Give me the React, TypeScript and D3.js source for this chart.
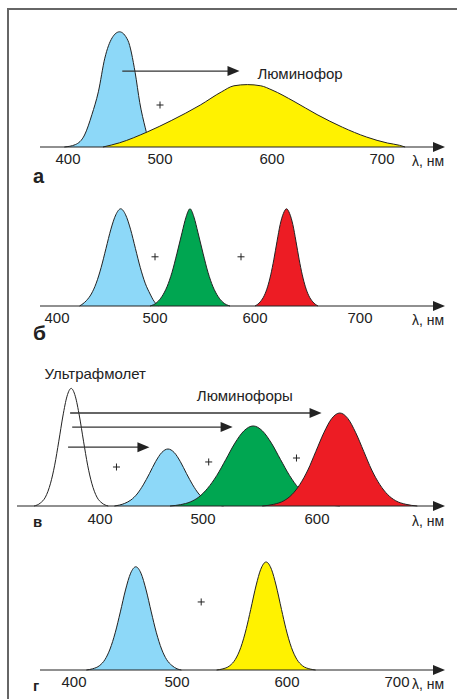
import * as d3 from "d3";

type Pt = [number, number];

const W = 457;
const H = 699;
const AMP = 120; // px per unit of relative intensity

const BLUE = "#8dd8f8";
const YELLOW = "#fff200";
const GREEN = "#00a651";
const RED = "#ed1c24";
const INK = "#222";

// ---- panel а : blue LED + broad phosphor ----
const ticksA = [400, 500, 600, 700];
const blueA: Pt[] = [[396, 0], [408, 0.02], [418, 0.1], [426, 0.27], [433, 0.46], [440, 0.74], [448, 0.91], [456, 0.96], [465, 0.89], [473, 0.62], [478, 0.37], [484, 0.16], [488, 0.05], [492, 0]];
const yellowA: Pt[] = [[438, 0], [456, 0.035], [486, 0.125], [510, 0.22], [536, 0.35], [555, 0.46], [566, 0.51], [578, 0.52], [590, 0.51], [600, 0.475], [620, 0.38], [641, 0.27], [664, 0.165], [686, 0.083], [705, 0.033], [716, 0.014], [721, 0]];

// ---- panel б : RGB ----
const ticksB = [400, 500, 600, 700];
const blueB: Pt[] = [[423, 0], [430, 0.045], [435, 0.1], [440, 0.19], [445, 0.32], [450, 0.48], [455, 0.64], [460, 0.76], [465, 0.81], [470, 0.76], [475, 0.64], [480, 0.48], [485, 0.32], [490, 0.19], [495, 0.1], [499, 0.04], [504, 0]];
const greenB: Pt[] = [[495, 0], [502, 0.03], [507, 0.08], [512, 0.16], [517, 0.28], [522, 0.44], [527, 0.61], [531, 0.74], [535, 0.81], [539, 0.74], [543, 0.61], [548, 0.44], [553, 0.28], [558, 0.16], [563, 0.08], [568, 0.03], [575, 0]];
const redB: Pt[] = [[600, 0], [605, 0.035], [609, 0.09], [612, 0.16], [615, 0.26], [618, 0.39], [621, 0.54], [624, 0.68], [627, 0.77], [630, 0.81], [633, 0.77], [636, 0.68], [639, 0.54], [642, 0.39], [645, 0.26], [648, 0.16], [651, 0.09], [655, 0.035], [660, 0]];

// ---- panel в : UV + three phosphors ----
const ticksV = [400, 500, 600, 700];
const uvV: Pt[] = [[336, 0], [342, 0.024], [347, 0.074], [352, 0.19], [356, 0.34], [360, 0.54], [364, 0.75], [368, 0.915], [372, 0.98], [376, 0.915], [380, 0.75], [384, 0.54], [388, 0.34], [392, 0.19], [397, 0.074], [402, 0.024], [408, 0]];
const blueV: Pt[] = [[414, 0], [424, 0.022], [430, 0.05], [436, 0.1], [442, 0.176], [448, 0.27], [454, 0.37], [460, 0.446], [466, 0.475], [472, 0.446], [478, 0.37], [484, 0.27], [490, 0.176], [496, 0.1], [502, 0.05], [508, 0.022], [518, 0]];
const greenV: Pt[] = [[468, 0], [478, 0.011], [488, 0.035], [496, 0.075], [504, 0.147], [512, 0.253], [520, 0.387], [528, 0.524], [536, 0.627], [544, 0.667], [552, 0.627], [560, 0.524], [568, 0.387], [576, 0.253], [584, 0.147], [592, 0.075], [600, 0.035], [610, 0.011], [620, 0]];
const redV: Pt[] = [[552, 0], [562, 0.014], [571, 0.044], [578, 0.095], [585, 0.18], [592, 0.3], [599, 0.455], [606, 0.61], [613, 0.73], [620, 0.775], [627, 0.73], [634, 0.61], [641, 0.455], [648, 0.3], [655, 0.18], [662, 0.095], [669, 0.044], [678, 0.014], [688, 0]];

// ---- panel г : blue + yellow ----
const ticksG = [400, 500, 600, 700];
const blueG: Pt[] = [[412, 0], [418, 0.01], [425, 0.038], [430, 0.086], [435, 0.175], [440, 0.31], [445, 0.484], [450, 0.667], [455, 0.807], [460, 0.86], [465, 0.807], [470, 0.667], [475, 0.484], [480, 0.31], [485, 0.175], [490, 0.086], [495, 0.038], [500, 0.01], [504, 0]];
const yellowG: Pt[] = [[536, 0], [541, 0.008], [548, 0.036], [553, 0.088], [558, 0.188], [563, 0.345], [567, 0.504], [572, 0.708], [576, 0.836], [581, 0.9], [586, 0.836], [590, 0.708], [595, 0.504], [599, 0.345], [604, 0.188], [609, 0.088], [614, 0.036], [621, 0.008], [626, 0]];

type Series = { data: Pt[]; color: string };
type Arrow = { from: number; to: number; level: number };
type Note = { text: string; nm: number; level: number };
type Plus = { nm: number; level: number };

type PanelCfg = {
  ticks: number[];
  tickPx: number[];
  shownTicks: number[];
  axisY: number;
  axisX0: number;
  labelDy: number;
  letter: string;
  letterY: number;
  letterSize: number;
  series: Series[];
  arrows: Arrow[];
  notes: Note[];
  pluses: Plus[];
};

const panels: PanelCfg[] = [
  {
    ticks: ticksA, tickPx: [68, 160, 272, 382], shownTicks: ticksA,
    axisY: 147, axisX0: 40, labelDy: 17, letter: "а", letterY: 183, letterSize: 20,
    series: [{ data: blueA, color: BLUE }, { data: yellowA, color: YELLOW }],
    arrows: [{ from: 459, to: 571, level: 0.633 }],
    notes: [{ text: "Люминофор", nm: 587, level: 0.57 }],
    pluses: [{ nm: 500, level: 0.35 }],
  },
  {
    ticks: ticksB, tickPx: [57, 155, 255, 360], shownTicks: ticksB,
    axisY: 306, axisX0: 40, labelDy: 17, letter: "б", letterY: 340, letterSize: 21,
    series: [{ data: blueB, color: BLUE }, { data: greenB, color: GREEN }, { data: redB, color: RED }],
    arrows: [], notes: [],
    pluses: [{ nm: 500, level: 0.41 }, { nm: 586, level: 0.41 }],
  },
  {
    ticks: ticksV, tickPx: [100, 203, 317, 431], shownTicks: [400, 500, 600],
    axisY: 506, axisX0: 17, labelDy: 18, letter: "в", letterY: 527, letterSize: 15,
    series: [{ data: uvV, color: "#fff" }, { data: blueV, color: BLUE }, { data: greenV, color: GREEN }, { data: redV, color: RED }],
    arrows: [
      { from: 371, to: 604, level: 0.775 },
      { from: 373, to: 526, level: 0.658 },
      { from: 369, to: 448, level: 0.49 },
    ],
    notes: [
      { text: "Ультрафмолет", nm: 346, level: 1.058 },
      { text: "Люминофоры", nm: 494, level: 0.875 },
    ],
    pluses: [{ nm: 416, level: 0.325 }, { nm: 505, level: 0.367 }, { nm: 582, level: 0.4 }],
  },
  {
    ticks: ticksG, tickPx: [74, 177, 287, 397], shownTicks: ticksG,
    axisY: 670, axisX0: 40, labelDy: 17, letter: "г", letterY: 691, letterSize: 15,
    series: [{ data: blueG, color: BLUE }, { data: yellowG, color: YELLOW }],
    arrows: [], notes: [],
    pluses: [{ nm: 522, level: 0.567 }],
  },
];

const FONT = "'Liberation Sans', Arial, sans-serif";
const AXIS_END = 445;

function Panel({ cfg }: { cfg: PanelCfg }) {
  const x = d3.scaleLinear().domain(cfg.ticks).range(cfg.tickPx);
  const y = d3.scaleLinear().domain([0, 1]).range([cfg.axisY, cfg.axisY - AMP]);

  const area = d3
    .area<Pt>()
    .x((d) => x(d[0]))
    .y0(cfg.axisY)
    .y1((d) => y(d[1]))
    .curve(d3.curveMonotoneX);
  const line = d3
    .line<Pt>()
    .x((d) => x(d[0]))
    .y((d) => y(d[1]))
    .curve(d3.curveMonotoneX);

  return (
    <g>
      {cfg.series.map((s, i) => (
        <g key={i}>
          <path d={area(s.data) || ""} fill={s.color} />
          <path d={line(s.data) || ""} fill="none" stroke={INK} strokeWidth={1} />
        </g>
      ))}

      {/* axis */}
      <line x1={cfg.axisX0} x2={AXIS_END - 10} y1={cfg.axisY} y2={cfg.axisY} stroke={INK} strokeWidth={1.2} />
      <path
        d={`M${AXIS_END},${cfg.axisY} L${AXIS_END - 12},${cfg.axisY - 5} L${AXIS_END - 12},${cfg.axisY + 5} Z`}
        fill={INK}
      />
      {cfg.shownTicks.map((t) => (
        <text key={t} x={x(t)} y={cfg.axisY + cfg.labelDy} textAnchor="middle" fontSize={15} fill={INK} fontFamily={FONT}>
          {t}
        </text>
      ))}
      <text x={412} y={cfg.axisY + cfg.labelDy + 2} fontSize={14} fill={INK} fontFamily={FONT}>
        λ, нм
      </text>
      <text x={33} y={cfg.letterY} fontSize={cfg.letterSize} fontWeight="bold" fill={INK} fontFamily={FONT}>
        {cfg.letter}
      </text>

      {cfg.pluses.map((p, i) => {
        const cx = x(p.nm);
        const cy = y(p.level);
        return (
          <g key={i} stroke={INK} strokeWidth={1}>
            <line x1={cx - 3.5} x2={cx + 3.5} y1={cy} y2={cy} />
            <line x1={cx} x2={cx} y1={cy - 3.5} y2={cy + 3.5} />
          </g>
        );
      })}

      {cfg.arrows.map((a, i) => {
        const x0 = x(a.from);
        const x1 = x(a.to);
        const yy = y(a.level);
        return (
          <g key={i}>
            <line x1={x0} x2={x1 - 10} y1={yy} y2={yy} stroke="#333" strokeWidth={1.3} />
            <path d={`M${x1},${yy} L${x1 - 12},${yy - 5} L${x1 - 12},${yy + 5} Z`} fill={INK} />
          </g>
        );
      })}

      {cfg.notes.map((n, i) => (
        <text key={i} x={x(n.nm)} y={y(n.level)} fontSize={15} fill={INK} fontFamily={FONT}>
          {n.text}
        </text>
      ))}
    </g>
  );
}

export default function App() {
  return (
    <svg width={W} height={H} style={{ position: "absolute", left: 0, top: 0, background: "#fff" }}>
      <rect x={0} y={0} width={W} height={H} fill="#fff" />
      {/* frame */}
      <line x1={8} x2={8} y1={8} y2={H} stroke="#666" strokeWidth={2} />
      <line x1={7} x2={W} y1={9} y2={9} stroke="#666" strokeWidth={2} />
      {panels.map((p, i) => (
        <Panel key={i} cfg={p} />
      ))}
    </svg>
  );
}
